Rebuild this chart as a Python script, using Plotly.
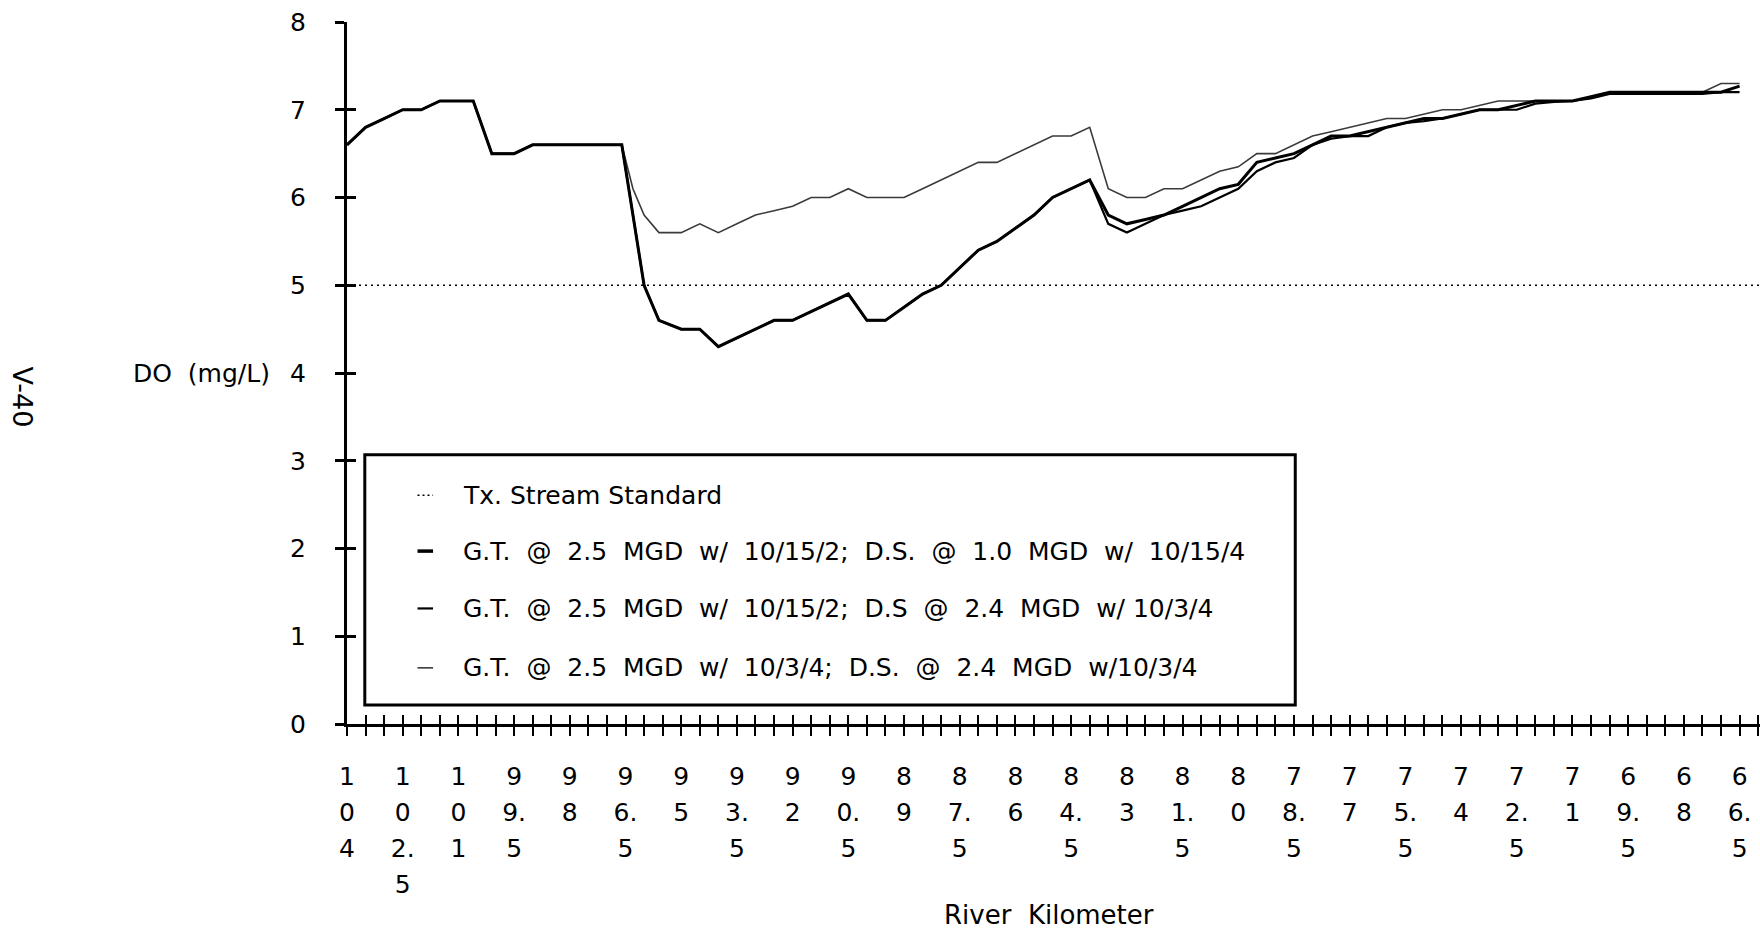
import plotly.graph_objects as go

# ---------------- data ----------------
KM = [104.0, 103.5, 103.0, 102.5, 102.0, 101.5, 101.0, 100.6, 100.1, 99.5,
      99.0, 98.5, 98.0, 97.5, 97.0, 96.6, 96.3, 96.0, 95.6, 95.0,
      94.5, 94.0, 93.5, 93.0, 92.5, 92.0, 91.5, 91.0, 90.5, 90.0,
      89.5, 89.0, 88.5, 88.0, 87.5, 87.0, 86.5, 86.0, 85.5, 85.0,
      84.5, 84.0, 83.5, 83.0, 82.5, 82.0, 81.5, 81.0, 80.5, 80.0,
      79.5, 79.0, 78.5, 78.0, 77.5, 77.0, 76.5, 76.0, 75.5, 75.0,
      74.5, 74.0, 73.5, 73.0, 72.5, 72.0, 71.5, 71.0, 70.5, 70.0,
      69.5, 69.0, 68.5, 68.0, 67.5, 67.0, 66.5]

# G.T. @ 2.5 MGD w/ 10/3/4; D.S. @ 2.4 MGD w/10/3/4
DO_GT1034_DS24 = [6.6, 6.8, 6.9, 7.0, 7.0, 7.1, 7.1, 7.1, 6.5, 6.5,
                  6.6, 6.6, 6.6, 6.6, 6.6, 6.6, 6.1, 5.8, 5.6, 5.6,
                  5.7, 5.6, 5.7, 5.8, 5.85, 5.9, 6.0, 6.0, 6.1, 6.0,
                  6.0, 6.0, 6.1, 6.2, 6.3, 6.4, 6.4, 6.5, 6.6, 6.7,
                  6.7, 6.8, 6.1, 6.0, 6.0, 6.1, 6.1, 6.2, 6.3, 6.35,
                  6.5, 6.5, 6.6, 6.7, 6.75, 6.8, 6.85, 6.9, 6.9, 6.95,
                  7.0, 7.0, 7.05, 7.1, 7.1, 7.1, 7.1, 7.1, 7.15, 7.2,
                  7.2, 7.2, 7.2, 7.2, 7.2, 7.3, 7.3]

# G.T. @ 2.5 MGD w/ 10/15/2; D.S. @ 1.0 MGD w/ 10/15/4
DO_GT10152_DS10 = [6.6, 6.8, 6.9, 7.0, 7.0, 7.1, 7.1, 7.1, 6.5, 6.5,
                   6.6, 6.6, 6.6, 6.6, 6.6, 6.6, 5.8, 5.0, 4.6, 4.5,
                   4.5, 4.3, 4.4, 4.5, 4.6, 4.6, 4.7, 4.8, 4.9, 4.6,
                   4.6, 4.75, 4.9, 5.0, 5.2, 5.4, 5.5, 5.65, 5.8, 6.0,
                   6.1, 6.2, 5.8, 5.7, 5.75, 5.8, 5.9, 6.0, 6.1, 6.15,
                   6.4, 6.45, 6.5, 6.6, 6.7, 6.7, 6.75, 6.8, 6.85, 6.9,
                   6.9, 6.95, 7.0, 7.0, 7.05, 7.1, 7.1, 7.1, 7.15, 7.2,
                   7.2, 7.2, 7.2, 7.2, 7.2, 7.2, 7.27]

# G.T. @ 2.5 MGD w/ 10/15/2; D.S @ 2.4 MGD w/ 10/3/4
DO_GT10152_DS24 = [6.6, 6.8, 6.9, 7.0, 7.0, 7.1, 7.1, 7.1, 6.5, 6.5,
                   6.6, 6.6, 6.6, 6.6, 6.6, 6.6, 5.8, 5.0, 4.6, 4.5,
                   4.5, 4.3, 4.4, 4.5, 4.6, 4.6, 4.7, 4.8, 4.9, 4.6,
                   4.6, 4.75, 4.9, 5.0, 5.2, 5.4, 5.5, 5.65, 5.8, 6.0,
                   6.1, 6.2, 5.7, 5.6, 5.7, 5.8, 5.85, 5.9, 6.0, 6.1,
                   6.3, 6.4, 6.45, 6.6, 6.67, 6.7, 6.7, 6.8, 6.85, 6.87,
                   6.9, 6.95, 7.0, 7.0, 7.0, 7.07, 7.09, 7.1, 7.13, 7.18,
                   7.18, 7.18, 7.18, 7.18, 7.18, 7.2, 7.2]

STANDARD_DO = 5.0
STANDARD_KM = [104.0, 65.95]

Y_TICKS = [0, 1, 2, 3, 4, 5, 6, 7, 8]
X_TICK_LABELS = ["104", "102.5", "101", "99.5", "98", "96.5", "95", "93.5", "92",
                 "90.5", "89", "87.5", "86", "84.5", "83", "81.5", "80", "78.5",
                 "77", "75.5", "74", "72.5", "71", "69.5", "68", "66.5"]

LEGEND_NAMES = ["Tx. Stream Standard",
                "G.T. @ 2.5 MGD w/ 10/15/2; D.S. @ 1.0 MGD w/ 10/15/4",
                "G.T. @ 2.5 MGD w/ 10/15/2; D.S @ 2.4 MGD w/ 10/3/4",
                "G.T. @ 2.5 MGD w/ 10/3/4; D.S. @ 2.4 MGD w/10/3/4"]

FONT = "DejaVu Sans"
FS = 25
X_RANGE = [104.0, 65.95]
Y_RANGE = [0, 8]


def stack(label):
    parts = []
    for ch in label:
        if ch == "." and parts:
            parts[-1] += "."
        else:
            parts.append(ch)
    return "<br>".join('<span style="font-size:%dpx">%s</span>' % (FS, p) for p in parts)


def widen(text, n):
    # the scanned legend uses wider word gaps: widen the first n gaps
    out, k = [], 0
    for ch in text:
        if ch == " " and k < n:
            out.append(" \u00a0")
            k += 1
        else:
            out.append(ch)
    return "".join(out)


tick_pos = [104.0 - 0.5 * i for i in range(77)]
label_map = {float(s): stack(s) for s in X_TICK_LABELS}
tick_text = [label_map.get(v, "") for v in tick_pos]

fig = go.Figure()

fig.add_trace(go.Scatter(x=KM, y=DO_GT1034_DS24, mode="lines", name=LEGEND_NAMES[3],
                         line=dict(color="#3a3a3a", width=1.6), showlegend=False))
fig.add_trace(go.Scatter(x=KM, y=DO_GT10152_DS24, mode="lines", name=LEGEND_NAMES[2],
                         line=dict(color="black", width=2.2), showlegend=False))
fig.add_trace(go.Scatter(x=KM, y=DO_GT10152_DS10, mode="lines", name=LEGEND_NAMES[1],
                         line=dict(color="black", width=3), showlegend=False))
fig.add_trace(go.Scatter(x=STANDARD_KM, y=[STANDARD_DO] * len(STANDARD_KM), mode="lines",
                         name=LEGEND_NAMES[0], xaxis="x2", yaxis="y2",
                         line=dict(color="black", width=1.5, dash="2px,4px"), showlegend=False))

axis_common = dict(showgrid=False, zeroline=False, color="black", automargin=False)

fig.update_layout(
    width=1760, height=932,
    margin=dict(l=347, r=0, t=22, b=208, autoexpand=False),
    paper_bgcolor="white", plot_bgcolor="white",
    font=dict(family=FONT, size=FS, color="black"),
    showlegend=False,
    xaxis=dict(**axis_common, range=X_RANGE, showline=True, linewidth=3, linecolor="black",
               tickmode="array", tickvals=tick_pos, ticktext=tick_text,
               ticks="outside", ticklen=9, tickwidth=2, tickcolor="black",
               tickfont=dict(family=FONT, size=27.6, color="black"),
               ticklabelstandoff=16, tickangle=0),
    yaxis=dict(**axis_common, range=Y_RANGE, showline=True, linewidth=3, linecolor="black",
               tickmode="array", tickvals=Y_TICKS, ticks="outside", ticklen=9, tickwidth=2.5,
               tickcolor="black", tickfont=dict(family=FONT, size=FS, color="black"),
               ticklabelstandoff=24),
    xaxis2=dict(**axis_common, range=X_RANGE, overlaying="x", anchor="y2", side="bottom",
                showline=False, tickmode="array", tickvals=tick_pos, ticks="inside",
                ticklen=9, tickwidth=2, tickcolor="black", showticklabels=False),
    yaxis2=dict(**axis_common, range=Y_RANGE, overlaying="y", anchor="x2", side="left",
                showline=False, tickmode="array", tickvals=Y_TICKS, ticks="inside",
                ticklen=9, tickwidth=2.5, tickcolor="black", showticklabels=False),
)

# axis titles and page marker
fig.add_annotation(x=0.497, y=-0.272, xref="paper", yref="paper", text="River \u00a0Kilometer",
                   showarrow=False, xanchor="center", yanchor="middle",
                   font=dict(family=FONT, size=26, color="black"))
fig.add_annotation(x=-0.0534, y=4, xref="paper", yref="y", text="DO \u00a0(mg/L)",
                   showarrow=False, xanchor="right", yanchor="middle",
                   font=dict(family=FONT, size=FS, color="black"))
fig.add_annotation(x=-0.2297, y=0.466, xref="paper", yref="paper", text="V-40",
                   showarrow=False, textangle=90, xanchor="center", yanchor="middle",
                   font=dict(family=FONT, size=27, color="black"))

# legend box drawn manually
fig.add_shape(type="rect", xref="paper", yref="paper", x0=0.0126, x1=0.6711, y0=0.0272, y1=0.3836,
              line=dict(color="black", width=3), fillcolor="white", layer="above")
leg_y = [0.326, 0.2463, 0.1646, 0.080]
leg_widen = [0, 11, 10, 10]
leg_styles = [dict(color="black", width=1.5, dash="2px,3px"),
              dict(color="black", width=3.5),
              dict(color="black", width=2.2),
              dict(color="#3a3a3a", width=1.6)]
for name, yy, st, nw in zip(LEGEND_NAMES, leg_y, leg_styles, leg_widen):
    fig.add_shape(type="line", xref="paper", yref="paper", x0=0.0499, x1=0.0609, y0=yy, y1=yy,
                  line=st, layer="above")
    fig.add_annotation(x=0.0809, y=yy, xref="paper", yref="paper", text=widen(name, nw),
                       showarrow=False, xanchor="left", yanchor="middle",
                       font=dict(family=FONT, size=FS, color="black"))

fig.write_html("out.html", config={"displayModeBar": False},
               post_script="document.body.style.margin='0';document.body.style.overflow='hidden';")
